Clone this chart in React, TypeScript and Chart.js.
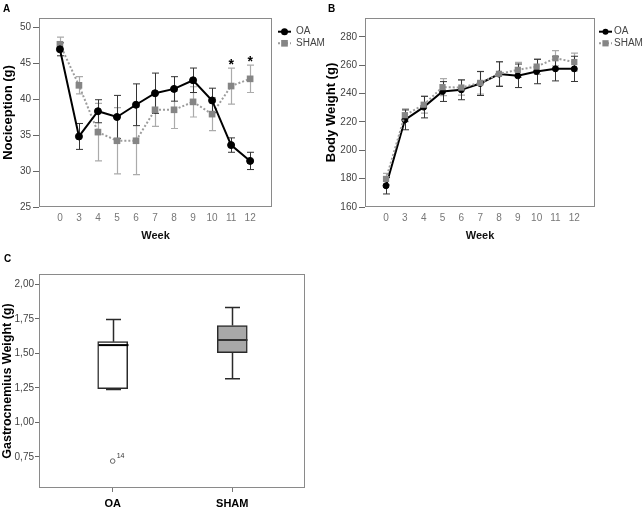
import React, { useEffect, useRef } from 'react';
import { Chart, registerables } from 'chart.js';

Chart.register(...registerables);
Chart.defaults.font.family = "'Liberation Sans', Arial, sans-serif";

// ---------- Data ----------
const weeks = ['0', '3', '4', '5', '6', '7', '8', '9', '10', '11', '12'];

const oaNociception = [46.9, 34.8, 38.3, 37.5, 39.2, 40.8, 41.4, 42.6, 39.8, 33.6, 31.4];
const oaNociceptionErr = [0.9, 1.8, 1.6, 3.0, 2.9, 2.8, 1.7, 1.7, 1.7, 1.0, 1.2];
const shamNociception = [47.6, 41.9, 35.4, 34.2, 34.2, 38.5, 38.5, 39.6, 37.9, 41.8, 42.8];
const shamNociceptionErr = [1.0, 1.2, 4.0, 4.6, 4.7, 2.3, 2.6, 2.1, 2.3, 2.5, 1.9];
const significantWeeks = ['11', '12'];
const nociceptionTicks = [25, 30, 35, 40, 45, 50];

const oaBodyWeight = [175, 221.5, 230.5, 241.5, 242.7, 247.2, 253.8, 252.6, 255.6, 257.5, 257.5];
const oaBodyWeightErr = [5.8, 7.0, 7.6, 7.0, 7.0, 8.5, 8.7, 8.3, 8.6, 8.5, 8.9];
const shamBodyWeight = [179.8, 224.8, 232.2, 244.6, 244.3, 247.6, 254.0, 256.8, 259.1, 265.0, 262.3];
const shamBodyWeightErr = [4.0, 4.5, 6.0, 6.0, 5.4, 8.0, 8.5, 5.3, 5.5, 5.4, 6.3];
const bodyWeightTicks = [160, 180, 200, 220, 240, 260, 280];

const boxGroups = ['OA', 'SHAM'];
const boxMin = [1.238, 1.316];
const boxQ1 = [1.245, 1.505];
const boxMedian = [1.56, 1.597];
const boxQ3 = [1.585, 1.702];
const boxMax = [1.745, 1.833];
const outlierGroup = ['OA'];
const outlierValue = [0.72];
const outlierLabel = ['14'];
const gastroTicks = [0.75, 1.0, 1.25, 1.5, 1.75, 2.0];

// ---------- Plugins ----------
const framePlugin = {
  id: 'frame',
  beforeDatasetsDraw(chart: any) {
    const { ctx, chartArea: ca } = chart;
    ctx.save();
    ctx.strokeStyle = '#8a8a8a';
    ctx.lineWidth = 1;
    ctx.strokeRect(
      Math.round(ca.left) + 0.5,
      Math.round(ca.top) + 0.5,
      Math.round(ca.right - ca.left) - 1,
      Math.round(ca.bottom - ca.top) - 1
    );
    ctx.restore();
  },
};

function makeErrorBars(sets: { dataset: number; errors: number[]; color: string; width: number; cap: number }[]) {
  return {
    id: 'errorBars',
    beforeDatasetsDraw(chart: any) {
      const ys = chart.scales.y;
      const ctx = chart.ctx;
      sets.forEach((set) => {
        const meta = chart.getDatasetMeta(set.dataset);
        const vals = chart.data.datasets[set.dataset].data;
        ctx.save();
        ctx.strokeStyle = set.color;
        ctx.lineWidth = set.width;
        meta.data.forEach((pt: any, i: number) => {
          const v = vals[i].y;
          const e = set.errors[i];
          const x = Math.round(pt.x) + 0.5;
          const yt = ys.getPixelForValue(v + e);
          const yb = ys.getPixelForValue(v - e);
          ctx.beginPath();
          ctx.moveTo(x, yt);
          ctx.lineTo(x, yb);
          ctx.moveTo(x - set.cap, yt);
          ctx.lineTo(x + set.cap, yt);
          ctx.moveTo(x - set.cap, yb);
          ctx.lineTo(x + set.cap, yb);
          ctx.stroke();
        });
        ctx.restore();
      });
    },
  };
}

function makeAsterisks(dataset: number, errors: number[], labels: string[]) {
  return {
    id: 'asterisks',
    afterDatasetsDraw(chart: any) {
      const ys = chart.scales.y;
      const xs = chart.scales.x;
      const ctx = chart.ctx;
      const vals = chart.data.datasets[dataset].data;
      ctx.save();
      ctx.fillStyle = '#000';
      ctx.font = "bold 14px 'Liberation Sans', Arial, sans-serif";
      ctx.textAlign = 'center';
      ctx.textBaseline = 'alphabetic';
      labels.forEach((w) => {
        const i = weeks.indexOf(w);
        const x = xs.getPixelForValue(i);
        const top = ys.getPixelForValue(vals[i].y + errors[i]);
        ctx.fillText('*', x, top + 1);
      });
      ctx.restore();
    },
  };
}

function makeLegend(x: number, y: number, lineLen: number, textX: number, dy: number) {
  return {
    id: 'customLegend',
    afterDraw(chart: any) {
      const ctx = chart.ctx;
      chart.data.datasets.forEach((ds: any, k: number) => {
        const yy = y + k * dy;
        ctx.save();
        ctx.strokeStyle = ds.borderColor;
        ctx.lineWidth = ds.borderWidth;
        ctx.setLineDash(ds.borderDash || []);
        ctx.beginPath();
        ctx.moveTo(x, yy);
        ctx.lineTo(x + lineLen, yy);
        ctx.stroke();
        ctx.setLineDash([]);
        const cx = x + lineLen / 2;
        ctx.fillStyle = ds.pointBackgroundColor;
        if (ds.pointStyle === 'rect') {
          const s = ds.pointRadius * Math.SQRT1_2;
          ctx.fillRect(cx - s, yy - s, 2 * s, 2 * s);
        } else {
          ctx.beginPath();
          ctx.arc(cx, yy, ds.pointRadius, 0, Math.PI * 2);
          ctx.fill();
        }
        ctx.fillStyle = '#444';
        ctx.font = "10px 'Liberation Sans', Arial, sans-serif";
        ctx.textBaseline = 'middle';
        ctx.textAlign = 'left';
        ctx.fillText(ds.label, textX, yy);
        ctx.restore();
      });
    },
  };
}

const boxPlugin = {
  id: 'boxWhiskers',
  afterDatasetsDraw(chart: any) {
    const xs = chart.scales.x;
    const ys = chart.scales.y;
    const ctx = chart.ctx;
    ctx.save();
    boxGroups.forEach((g, i) => {
      const x = Math.round(xs.getPixelForValue(i + 1)) + 0.5;
      const cap = 7.5;
      const half = 15;
      ctx.strokeStyle = '#2a2a2a';
      ctx.lineWidth = 1.5;
      ctx.beginPath();
      ctx.moveTo(x, ys.getPixelForValue(boxMax[i]));
      ctx.lineTo(x, ys.getPixelForValue(boxQ3[i]));
      ctx.moveTo(x, ys.getPixelForValue(boxQ1[i]));
      ctx.lineTo(x, ys.getPixelForValue(boxMin[i]));
      ctx.moveTo(x - cap, ys.getPixelForValue(boxMax[i]));
      ctx.lineTo(x + cap, ys.getPixelForValue(boxMax[i]));
      ctx.moveTo(x - cap, ys.getPixelForValue(boxMin[i]));
      ctx.lineTo(x + cap, ys.getPixelForValue(boxMin[i]));
      ctx.stroke();
      ctx.lineWidth = 2;
      ctx.strokeStyle = i === 0 ? '#000' : '#333';
      ctx.beginPath();
      ctx.moveTo(x - half, ys.getPixelForValue(boxMedian[i]));
      ctx.lineTo(x + half, ys.getPixelForValue(boxMedian[i]));
      ctx.stroke();
    });
    ctx.fillStyle = '#333';
    ctx.font = "7px 'Liberation Sans', Arial, sans-serif";
    ctx.textAlign = 'left';
    ctx.textBaseline = 'middle';
    outlierGroup.forEach((g, k) => {
      const x = xs.getPixelForValue(boxGroups.indexOf(g) + 1);
      const y = ys.getPixelForValue(outlierValue[k]);
      ctx.fillText(outlierLabel[k], x + 4, y - 5);
    });
    ctx.restore();
  },
};

// ---------- Configs ----------
const pts = (arr: number[]) => arr.map((v, i) => ({ x: i, y: v }));

function lineOptions(o: {
  xMin: number; xMax: number; yMin: number; yMax: number; yTicks: number[];
  yTitle: string; yWidth: number; padRight: number; yTitlePad: number;
}) {
  return {
    responsive: false,
    animation: false,
    devicePixelRatio: 1,
    layout: { padding: { top: 18, right: o.padRight, left: 0, bottom: 0 } },
    plugins: { legend: { display: false }, tooltip: { enabled: false } },
    scales: {
      x: {
        type: 'linear',
        min: o.xMin,
        max: o.xMax,
        afterBuildTicks: (s: any) => {
          s.ticks = weeks.map((_, i) => ({ value: i }));
        },
        afterFit: (s: any) => {
          s.height = 43;
        },
        ticks: {
          callback: (v: number) => weeks[v] ?? '',
          color: '#777',
          font: { size: 10 },
          padding: 5,
          autoSkip: false,
          maxRotation: 0,
        },
        grid: { display: false, drawTicks: false, tickLength: 0 },
        border: { display: false },
        title: {
          display: true,
          text: 'Week',
          color: '#111',
          font: { size: 11, weight: 'bold' },
          padding: { top: 2, bottom: 7 },
        },
      },
      y: {
        type: 'linear',
        min: o.yMin,
        max: o.yMax,
        afterBuildTicks: (s: any) => {
          s.ticks = o.yTicks.map((v) => ({ value: v }));
        },
        afterFit: (s: any) => {
          s.width = o.yWidth;
        },
        ticks: { color: '#444', font: { size: 10 }, padding: 2 },
        grid: { drawOnChartArea: false, drawTicks: true, tickLength: 6, color: '#666' },
        border: { display: false },
        title: {
          display: true,
          text: o.yTitle,
          color: '#000',
          font: { size: 13, weight: 'bold' },
          padding: { top: o.yTitlePad, bottom: 0 },
        },
      },
    },
  };
}

function nociceptionConfig(): any {
  return {
    type: 'line',
    data: {
      datasets: [
        {
          label: 'OA', data: pts(oaNociception), borderColor: '#000', backgroundColor: '#000',
          pointBackgroundColor: '#000', pointBorderColor: '#000', borderWidth: 2,
          pointRadius: 3.5, pointBorderWidth: 1, pointStyle: 'circle', order: 0,
        },
        {
          label: 'SHAM', data: pts(shamNociception), borderColor: '#9c9c9c', borderDash: [2, 2],
          backgroundColor: '#858585', pointBackgroundColor: '#858585', pointBorderColor: '#858585',
          borderWidth: 2, pointRadius: 4.7, pointBorderWidth: 0, pointStyle: 'rect', order: 1,
        },
      ],
    },
    options: lineOptions({
      xMin: -1.1, xMax: 11.15, yMin: 25, yMax: 51.25, yTicks: nociceptionTicks,
      yTitle: 'Nociception (g)', yWidth: 39, padRight: 58, yTitlePad: 1,
    }),
    plugins: [
      framePlugin,
      makeErrorBars([
        { dataset: 1, errors: shamNociceptionErr, color: '#ababab', width: 1.2, cap: 3.5 },
        { dataset: 0, errors: oaNociceptionErr, color: '#333', width: 1, cap: 3.5 },
      ]),
      makeAsterisks(1, shamNociceptionErr, significantWeeks),
      makeLegend(278, 31.7, 13, 296, 11.6),
    ],
  };
}

function bodyWeightConfig(): any {
  return {
    type: 'line',
    data: {
      datasets: [
        {
          label: 'OA', data: pts(oaBodyWeight), borderColor: '#000', backgroundColor: '#000',
          pointBackgroundColor: '#000', pointBorderColor: '#000', borderWidth: 2,
          pointRadius: 3, pointBorderWidth: 1, pointStyle: 'circle', order: 1,
        },
        {
          label: 'SHAM', data: pts(shamBodyWeight), borderColor: '#9c9c9c', borderDash: [2, 2],
          backgroundColor: '#858585', pointBackgroundColor: '#858585', pointBorderColor: '#858585',
          borderWidth: 2, pointRadius: 4.4, pointBorderWidth: 0, pointStyle: 'rect', order: 0,
        },
      ],
    },
    options: lineOptions({
      xMin: -1.117, xMax: 11.1, yMin: 160, yMax: 293.4, yTicks: bodyWeightTicks,
      yTitle: 'Body Weight (g)', yWidth: 45, padRight: 49, yTitlePad: 4,
    }),
    plugins: [
      framePlugin,
      makeErrorBars([
        { dataset: 1, errors: shamBodyWeightErr, color: '#ababab', width: 1.2, cap: 3.5 },
        { dataset: 0, errors: oaBodyWeightErr, color: '#333', width: 1, cap: 3.5 },
      ]),
      makeLegend(279, 31.7, 13, 294, 11.6),
    ],
  };
}

function gastroConfig(): any {
  return {
    type: 'bar',
    data: {
      datasets: [
        {
          type: 'bar',
          label: 'box',
          data: boxGroups.map((g, i) => ({ x: i + 1, y: [boxQ1[i], boxQ3[i]] })),
          backgroundColor: ['#ffffff', '#a8a8a8'],
          borderColor: '#2a2a2a',
          borderWidth: 1.5,
          borderSkipped: false,
          barThickness: 30,
          order: 1,
        },
        {
          type: 'scatter',
          label: 'outliers',
          data: outlierGroup.map((g, k) => ({ x: boxGroups.indexOf(g) + 1, y: outlierValue[k] })),
          pointRadius: 2.3,
          pointBackgroundColor: '#fff',
          pointBorderColor: '#666',
          pointBorderWidth: 1,
          order: 0,
        },
      ],
    },
    options: {
      responsive: false,
      animation: false,
      devicePixelRatio: 1,
      layout: { padding: { top: 19, right: 25, left: 0, bottom: 0 } },
      plugins: { legend: { display: false }, tooltip: { enabled: false } },
      scales: {
        x: {
          type: 'linear',
          min: 0.384,
          max: 2.608,
          offset: false,
          afterBuildTicks: (s: any) => {
            s.ticks = boxGroups.map((_, i) => ({ value: i + 1 }));
          },
          afterFit: (s: any) => {
            s.height = 19;
          },
          ticks: {
            callback: (v: number) => boxGroups[v - 1] ?? '',
            color: '#000',
            font: { size: 11, weight: 'bold' },
            padding: 5,
            autoSkip: false,
            maxRotation: 0,
          },
          grid: { drawOnChartArea: false, drawTicks: true, tickLength: 4, color: '#777', offset: false },
          border: { display: false },
        },
        y: {
          type: 'linear',
          min: 0.525,
          max: 2.075,
          afterBuildTicks: (s: any) => {
            s.ticks = gastroTicks.map((v) => ({ value: v }));
          },
          afterFit: (s: any) => {
            s.width = 39;
          },
          ticks: {
            callback: (v: number) => v.toFixed(2).replace('.', ','),
            color: '#444',
            font: { size: 10 },
            padding: 1,
          },
          grid: { drawOnChartArea: false, drawTicks: true, tickLength: 4, color: '#666' },
          border: { display: false },
          title: {
            display: true,
            text: 'Gastrocnemius Weight (g)',
            color: '#000',
            font: { size: 12.5, weight: 'bold' },
            padding: { top: 0, bottom: 0 },
          },
        },
      },
    },
    plugins: [framePlugin, boxPlugin],
  };
}

// ---------- Components ----------
function ChartCanvas(props: { make: () => any; left: number; top: number; width: number; height: number }) {
  const ref = useRef<HTMLCanvasElement | null>(null);
  useEffect(() => {
    const chart = new Chart(ref.current as HTMLCanvasElement, props.make());
    return () => chart.destroy();
  }, []);
  return (
    <canvas
      ref={ref}
      width={props.width}
      height={props.height}
      style={{ position: 'absolute', left: props.left, top: props.top, width: props.width, height: props.height }}
    />
  );
}

const panelLabel: React.CSSProperties = {
  position: 'absolute',
  font: "bold 10px 'Liberation Sans', Arial, sans-serif",
  lineHeight: '10px',
  color: '#000',
};

export default function App() {
  return (
    <div style={{ position: 'absolute', left: 0, top: 0, width: 644, height: 507, background: '#fff', overflow: 'hidden' }}>
      <ChartCanvas make={nociceptionConfig} left={0} top={0} width={330} height={250} />
      <ChartCanvas make={bodyWeightConfig} left={320} top={0} width={324} height={250} />
      <ChartCanvas make={gastroConfig} left={0} top={255} width={330} height={252} />
      <div style={{ ...panelLabel, left: 3, top: 4 }}>A</div>
      <div style={{ ...panelLabel, left: 328, top: 4 }}>B</div>
      <div style={{ ...panelLabel, left: 4, top: 254 }}>C</div>
    </div>
  );
}
